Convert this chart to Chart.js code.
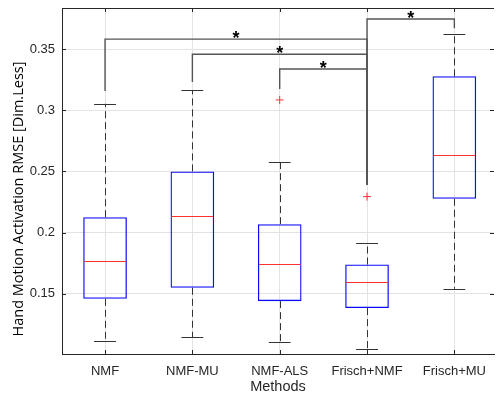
<!DOCTYPE html>
<html>
<head>
<meta charset="utf-8">
<script src="https://cdn.jsdelivr.net/npm/chart.js@4/dist/chart.umd.min.js"></script>
<style>
  html, body { margin: 0; padding: 0; background: #fff; }
  #wrap { width: 499px; height: 396px; position: relative; }
</style>
</head>
<body>
<div id="wrap"><canvas id="box"></canvas></div>
<script>
// Box plot of hand motion activation RMSE per method.
var methods = ["NMF", "NMF-MU", "NMF-ALS", "Frisch+NMF", "Frisch+MU"];
var whiskerLow = [0.1114, 0.1143, 0.1108, 0.1051, 0.1541];
var q1 = [0.1459, 0.1549, 0.1440, 0.1383, 0.2276];
var medians = [0.1769, 0.2137, 0.1742, 0.1598, 0.2632];
var q3 = [0.2126, 0.2500, 0.2069, 0.1739, 0.3277];
var whiskerHigh = [0.3053, 0.3163, 0.2580, 0.1919, 0.3625];

// outliers: method index (1-based) and value
var outlierGroup = [3, 4];
var outlierValue = [0.3084, 0.2294];

var yTicks = [0.15, 0.2, 0.25, 0.3, 0.35];
var yTickLabels = ["0.15", "0.2", "0.25", "0.3", "0.35"];

// significance brackets: between groups, bracket level, where each leg stops
var sigFrom = [1, 2, 3, 4];
var sigTo = [4, 4, 4, 5];
var sigLevel = [0.3581, 0.3457, 0.3337, 0.3745];
var sigFromEnd = [0.3157, 0.3231, 0.3173, 0.2390];
var sigToEnd = [0.2390, 0.2390, 0.2390, 0.3670];

var ink = "#262626";
var BOX_HALF = 0.25, CAP_HALF = 0.125;

var boxData = methods.map(function (m, i) { return { x: i + 1, y: [q1[i], q3[i]] }; });
var outData = outlierGroup.map(function (g, i) { return { x: g, y: outlierValue[i] }; });

var boxParts = {
  id: "boxParts",
  afterDatasetsDraw: function (chart) {
    var ctx = chart.ctx, xs = chart.scales.x, ys = chart.scales.y;
    ctx.save();
    ctx.lineWidth = 1;

    // whiskers + caps
    ctx.strokeStyle = "#333";
    methods.forEach(function (m, i) {
      var x = Math.round(xs.getPixelForValue(i + 1)) + 0.5;
      var xl = xs.getPixelForValue(i + 1 - CAP_HALF), xr = xs.getPixelForValue(i + 1 + CAP_HALF);
      ctx.setLineDash([7, 4]);
      ctx.beginPath();
      ctx.moveTo(x, ys.getPixelForValue(q3[i]));
      ctx.lineTo(x, ys.getPixelForValue(whiskerHigh[i]));
      ctx.moveTo(x, ys.getPixelForValue(q1[i]));
      ctx.lineTo(x, ys.getPixelForValue(whiskerLow[i]));
      ctx.stroke();
      ctx.setLineDash([]);
      ctx.beginPath();
      [whiskerHigh[i], whiskerLow[i]].forEach(function (v) {
        var y = Math.round(ys.getPixelForValue(v)) + 0.5;
        ctx.moveTo(xl, y);
        ctx.lineTo(xr, y);
      });
      ctx.stroke();
    });

    // medians
    ctx.strokeStyle = "#ff3030";
    ctx.beginPath();
    methods.forEach(function (m, i) {
      var ym = Math.round(ys.getPixelForValue(medians[i])) + 0.5;
      ctx.moveTo(xs.getPixelForValue(i + 1 - BOX_HALF) + 1, ym);
      ctx.lineTo(xs.getPixelForValue(i + 1 + BOX_HALF) - 1, ym);
    });
    ctx.stroke();

    // significance brackets
    ctx.strokeStyle = "#555";
    ctx.lineWidth = 1.4;
    ctx.fillStyle = "#000";
    ctx.font = "bold 18px 'Liberation Sans', Arial, sans-serif";
    ctx.textAlign = "center";
    ctx.textBaseline = "alphabetic";
    sigFrom.forEach(function (a, k) {
      var xa = xs.getPixelForValue(a), xb = xs.getPixelForValue(sigTo[k]);
      var yl = ys.getPixelForValue(sigLevel[k]);
      ctx.beginPath();
      ctx.moveTo(xa, ys.getPixelForValue(sigFromEnd[k]));
      ctx.lineTo(xa, yl);
      ctx.lineTo(xb, yl);
      ctx.lineTo(xb, ys.getPixelForValue(sigToEnd[k]));
      ctx.stroke();
      ctx.fillText("*", (xa + xb) / 2, yl + 5);
    });
    ctx.restore();
  },
  afterDraw: function (chart) {
    var ctx = chart.ctx, a = chart.chartArea, xs = chart.scales.x, ys = chart.scales.y;
    ctx.save();
    ctx.strokeStyle = ink;
    ctx.lineWidth = 1;
    ctx.beginPath();
    ctx.moveTo(a.left, a.top + 0.5);
    ctx.lineTo(a.right, a.top + 0.5);
    // inward ticks
    yTicks.forEach(function (v) {
      var y = Math.round(ys.getPixelForValue(v)) + 0.5;
      ctx.moveTo(a.left, y); ctx.lineTo(a.left + 4, y);
      ctx.moveTo(a.right, y); ctx.lineTo(a.right - 4, y);
    });
    methods.forEach(function (m, i) {
      var x = Math.round(xs.getPixelForValue(i + 1)) + 0.5;
      ctx.moveTo(x, a.bottom); ctx.lineTo(x, a.bottom - 4);
      ctx.moveTo(x, a.top); ctx.lineTo(x, a.top + 4);
    });
    ctx.stroke();

    // y-axis title
    ctx.fillStyle = "#000";
    ctx.font = "14.5px 'Open Sans', sans-serif";
    ctx.textAlign = "center";
    ctx.textBaseline = "middle";
    ctx.translate(18.5, 199);
    ctx.rotate(-Math.PI / 2);
    ctx.fillText("Hand Motion Activation RMSE [Dim.Less]", 0, 0);
    ctx.restore();
  }
};

var noPad = function (s) {
  s.paddingLeft = 0; s.paddingRight = 0; s.paddingTop = 0; s.paddingBottom = 0;
};
var tickFont = { family: "'Liberation Sans', Arial, sans-serif", size: 13 };

new Chart(document.getElementById("box"), {
  type: "bar",
  data: {
    datasets: [
      {
        label: "box",
        data: boxData,
        backgroundColor: "rgba(0,0,0,0)",
        borderColor: "#0a0aff",
        borderWidth: 1.3,
        borderSkipped: false,
        barPercentage: 0.5,
        categoryPercentage: 1,
      },
      {
        type: "scatter",
        label: "outliers",
        data: outData,
        pointStyle: "cross",
        pointRadius: 4,
        borderColor: "#ff3030",
        borderWidth: 1,
      },
    ],
  },
  options: {
    responsive: true,
    maintainAspectRatio: false,
    animation: false,
    devicePixelRatio: 1,
    layout: { padding: { top: 8, right: 0, left: 0, bottom: 0 } },
    plugins: { legend: { display: false }, tooltip: { enabled: false } },
    scales: {
      x: {
        type: "linear",
        offset: false,
        min: 0.507,
        max: 5.454,
        afterBuildTicks: function (s) {
          s.ticks = methods.map(function (m, i) { return { value: i + 1 }; });
        },
        afterFit: function (s) { s.height = 42; noPad(s); },
        grid: { color: "#e3e3e3", drawTicks: false, offset: false },
        border: { color: ink, width: 1 },
        ticks: {
          color: ink,
          font: tickFont,
          padding: 10,
          maxRotation: 0,
          autoSkip: false,
          callback: function (v) { return methods[Math.round(v) - 1] || ""; },
        },
        title: {
          display: true,
          text: "Methods",
          color: ink,
          font: { family: "'Liberation Sans', Arial, sans-serif", size: 14.5 },
          padding: { top: 4, bottom: 0 },
        },
      },
      y: {
        min: 0.1008,
        max: 0.3835,
        afterBuildTicks: function (s) {
          s.ticks = yTicks.map(function (v) { return { value: v }; });
        },
        afterFit: function (s) { s.width = 62; noPad(s); },
        grid: { color: "#e3e3e3", drawTicks: false },
        border: { color: ink, width: 1 },
        ticks: {
          color: ink,
          font: tickFont,
          padding: 7,
          callback: function (v) {
            var k = yTicks.indexOf(v);
            return k >= 0 ? yTickLabels[k] : "";
          },
        },
      },
    },
  },
  plugins: [boxParts],
});
</script>
</body>
</html>
